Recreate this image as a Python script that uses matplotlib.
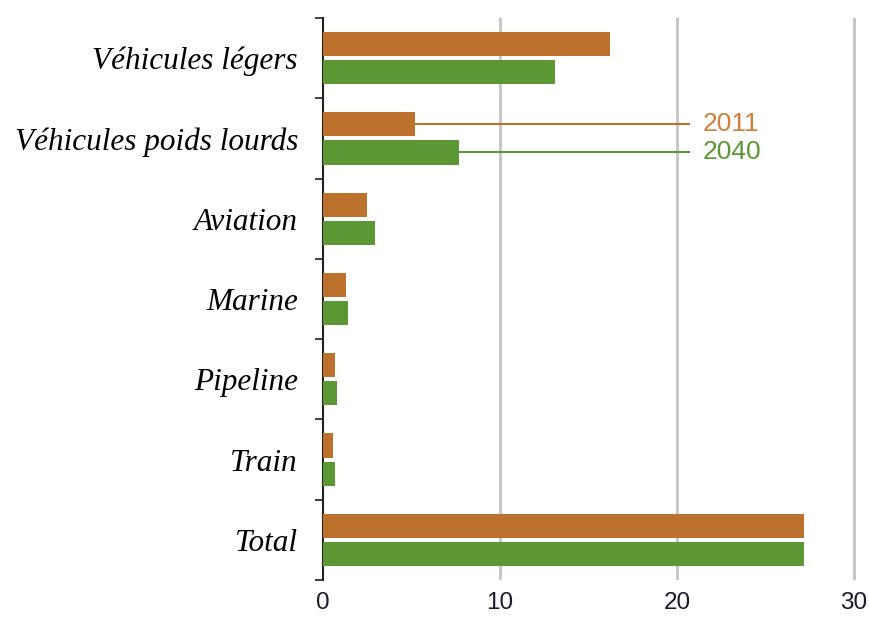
import matplotlib
matplotlib.use("Agg")
import matplotlib.pyplot as plt
import numpy as np

categories = ["Véhicules légers", "Véhicules poids lourds", "Aviation", "Marine",
              "Pipeline", "Train", "Total"]
values_2011 = [16.2, 5.2, 2.5, 1.3, 0.7, 0.55, 27.2]
values_2040 = [13.1, 7.7, 2.95, 1.4, 0.8, 0.7, 27.2]
series_labels = ["2011", "2040"]
xticks = [0, 10, 20, 30]

c2011 = "#BC722C"
c2040 = "#5B9834"

fig = plt.figure(figsize=(8.69, 6.19), dpi=100)
ax = fig.add_axes([323/869, 1-580/619, (861-323)/869, (580-18)/619])

y = np.arange(len(categories))
h = 0.30
off = 0.175
ax.barh(y - off, values_2011, height=h, color=c2011, zorder=3)
ax.barh(y + off, values_2040, height=h, color=c2040, zorder=3)

ax.set_xlim(0, 30.4)
ax.set_ylim(len(categories) - 0.5, -0.5)

# grid
for xv in xticks[1:]:
    ax.axvline(xv, color="#c4c4c4", lw=2, zorder=1)

ax.set_xticks(xticks)
ax.set_xticklabels([str(t) for t in xticks], fontfamily="Liberation Sans",
                   fontsize=17.5, color="#1a1a2e")
ax.tick_params(axis="x", length=0, pad=8.5)

ax.set_yticks(np.arange(len(categories) + 1) - 0.5)
ax.set_yticklabels([])
ax.tick_params(axis="y", which="major", length=6, width=1.3, color="#333333", direction="out")
ax.set_yticks(y, minor=True)
ax.set_yticklabels(categories, minor=True, fontfamily="Liberation Serif",
                   style="italic", fontsize=22.5)
ax.tick_params(axis="y", which="minor", length=0, pad=18)

for s in ["top", "right", "bottom"]:
    ax.spines[s].set_visible(False)
ax.spines["left"].set_color("#222222")
ax.spines["left"].set_linewidth(1.5)

# annotations for series
i = 1
ax.plot([values_2011[i], 20.7], [i - off, i - off], color=c2011, lw=1.5, zorder=4)
ax.plot([values_2040[i], 20.7], [i + off, i + off], color=c2040, lw=1.5, zorder=4)
ax.text(21.45, i - off, series_labels[0], color="#D07E3A", fontsize=19,
        fontfamily="Liberation Sans", va="center", ha="left")
ax.text(21.45, i + off, series_labels[1], color="#5B9834", fontsize=19,
        fontfamily="Liberation Sans", va="center", ha="left")

fig.savefig("out.png", dpi=100)
